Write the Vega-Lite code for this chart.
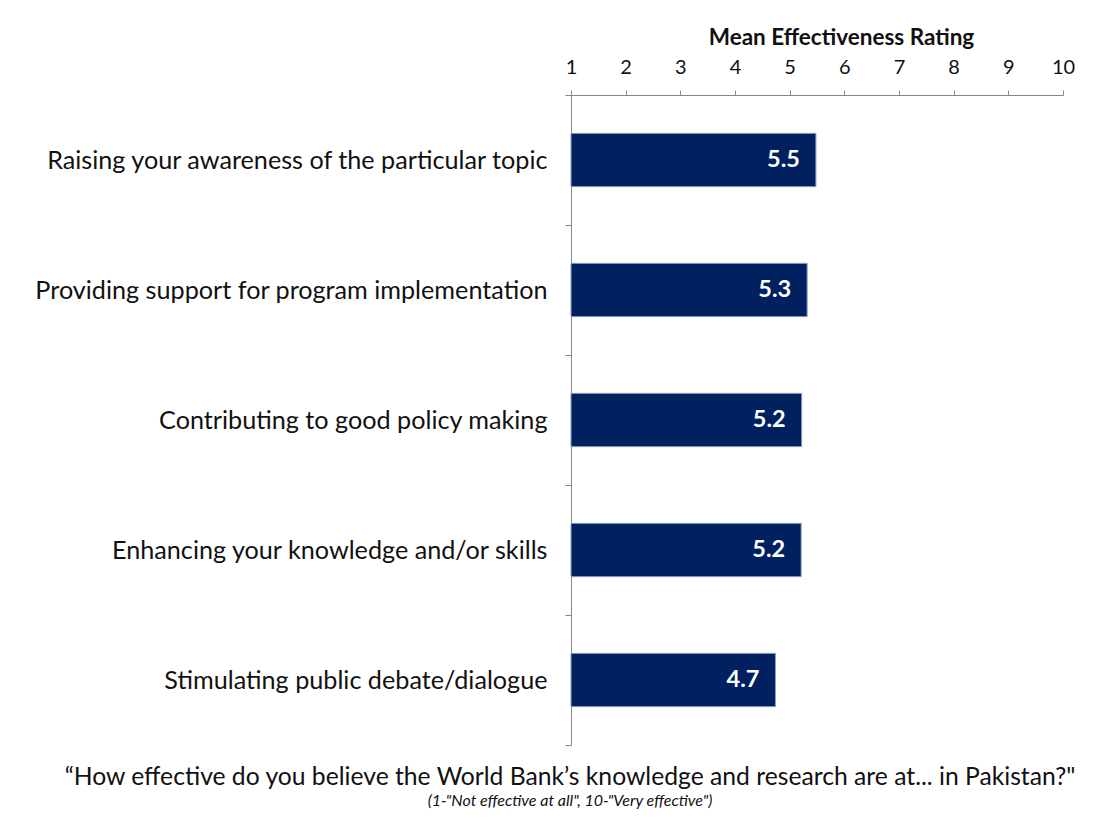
{
  "$schema": "https://vega.github.io/schema/vega-lite/v6.json",
  "width": 492,
  "height": 650,
  "autosize": {"type": "none"},
  "padding": {"left": 571, "top": 95, "right": 46, "bottom": 94},
  "background": "white",
  "data": {
    "values": [
      {"item": "Raising your awareness of the particular topic", "rating": 5.48},
      {"item": "Providing support for program implementation", "rating": 5.32},
      {"item": "Contributing to good policy making", "rating": 5.22},
      {"item": "Enhancing your knowledge and/or skills", "rating": 5.21},
      {"item": "Stimulating public debate/dialogue", "rating": 4.74}
    ]
  },
  "title": {
    "text": "“How effective do you believe the World Bank’s knowledge and research are at... in Pakistan?\"",
    "subtitle": "(1-\"Not effective at all\", 10-\"Very effective\")",
    "orient": "bottom",
    "anchor": "middle",
    "frame": "group",
    "dx": -247,
    "offset": 19,
    "font": "Lato",
    "fontSize": 24.7,
    "fontWeight": "normal",
    "color": "#111",
    "subtitleFont": "Lato",
    "subtitleFontSize": 16,
    "subtitleFontStyle": "italic",
    "subtitleColor": "#111",
    "subtitlePadding": 4
  },
  "encoding": {
    "y": {
      "field": "item",
      "type": "nominal",
      "sort": null,
      "scale": {"paddingInner": 0, "paddingOuter": 0},
      "axis": {
        "title": null,
        "tickBand": "extent",
        "domainColor": "#888",
        "tickColor": "#888",
        "tickSize": 6,
        "labelPadding": 18,
        "labelFont": "Lato",
        "labelFontSize": 25.2,
        "labelColor": "#111",
        "labelLimit": 700
      }
    },
    "x": {
      "field": "rating",
      "type": "quantitative",
      "scale": {"domain": [1, 10], "nice": false, "zero": false},
      "axis": {
        "orient": "top",
        "title": "Mean Effectiveness Rating",
        "titleFont": "Lato",
        "titleFontSize": 22.5,
        "titleFontWeight": "bold",
        "titleColor": "#111",
        "titlePadding": 8,
        "titleX": 270,
        "values": [1, 2, 3, 4, 5, 6, 7, 8, 9, 10],
        "grid": false,
        "domainColor": "#888",
        "tickColor": "#888",
        "tickSize": 5,
        "labelPadding": 13,
        "labelFont": "Lato",
        "labelFontSize": 20,
        "labelColor": "#111",
        "labelFlush": false
      }
    }
  },
  "layer": [
    {
      "mark": {"type": "bar", "color": "#002060", "stroke": "#8EA0C0", "strokeWidth": 1, "x": 0, "height": {"band": 0.41}},
      "encoding": {"x2": {"datum": 1}}
    },
    {
      "mark": {"type": "text", "align": "right", "baseline": "middle", "dx": -16, "color": "white", "font": "Lato", "fontSize": 23.5, "fontWeight": "bold"},
      "encoding": {"text": {"field": "rating", "type": "quantitative", "format": ".1f"}}
    }
  ],
  "config": {"view": {"stroke": null}}
}
